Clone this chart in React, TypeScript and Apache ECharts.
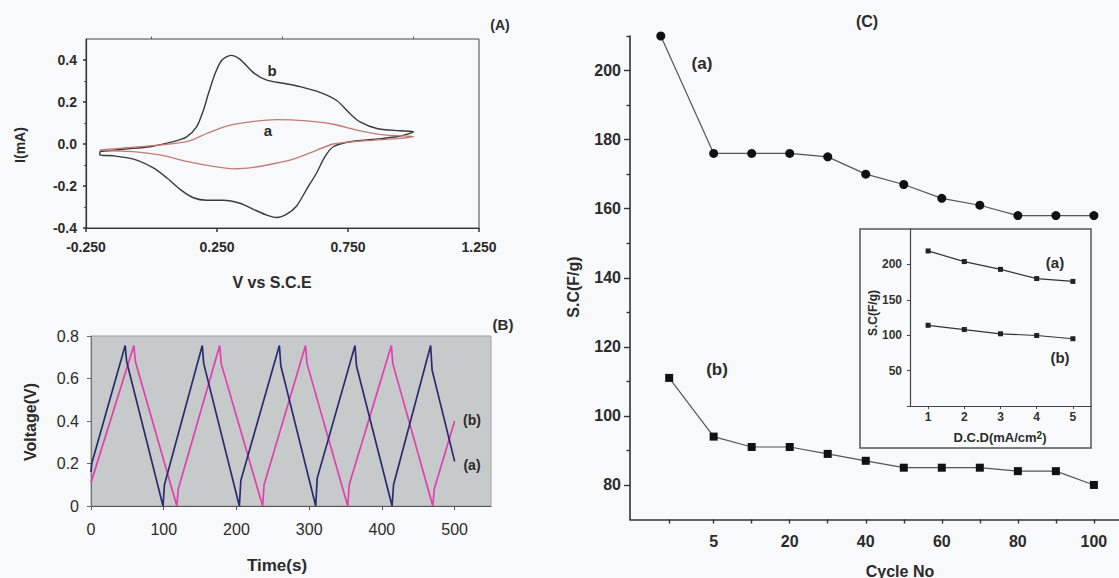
import React, { useEffect, useRef } from "react";
import * as echarts from "echarts";

const FONT = "'Liberation Sans', Arial, Helvetica, sans-serif";
const INK = "#2b2b2b";

// ---------- Panel A: cyclic voltammograms (V vs S.C.E, I in mA) ----------
const cvCurveB: number[][] = [
  [-0.197, -0.036], [-0.1, -0.024], [-0.006, -0.013], [0.083, 0.011], [0.134, 0.034],
  [0.172, 0.081], [0.198, 0.16], [0.217, 0.239], [0.242, 0.333], [0.268, 0.399],
  [0.303, 0.422], [0.338, 0.403], [0.389, 0.34], [0.44, 0.304], [0.503, 0.289],
  [0.567, 0.273], [0.643, 0.246], [0.707, 0.207], [0.758, 0.144], [0.796, 0.105],
  [0.86, 0.074], [0.948, 0.063], [1.0, 0.058], [0.95, 0.038], [0.885, 0.027],
  [0.758, 0.011], [0.694, -0.013], [0.662, -0.06], [0.63, -0.138], [0.592, -0.216],
  [0.554, -0.295], [0.516, -0.334], [0.478, -0.35], [0.44, -0.339], [0.389, -0.311],
  [0.338, -0.282], [0.274, -0.268], [0.211, -0.268], [0.16, -0.256], [0.109, -0.216],
  [0.058, -0.161], [0.007, -0.114], [-0.069, -0.072], [-0.146, -0.056], [-0.197, -0.052],
  [-0.197, -0.036],
];
const cvCurveA: number[][] = [
  [-0.197, -0.028], [-0.006, -0.009], [0.134, 0.011], [0.211, 0.05], [0.287, 0.085],
  [0.376, 0.105], [0.478, 0.116], [0.592, 0.11], [0.694, 0.094], [0.796, 0.063],
  [0.898, 0.042], [1.0, 0.036], [0.95, 0.027], [0.821, 0.016], [0.694, 0.0],
  [0.618, -0.036], [0.541, -0.072], [0.465, -0.094], [0.389, -0.111], [0.312, -0.118],
  [0.236, -0.107], [0.134, -0.083], [0.032, -0.052], [-0.069, -0.036], [-0.197, -0.03],
  [-0.197, -0.028],
];
const cvXTicks = [-0.25, 0.25, 0.75, 1.25];
const cvXMinorTicks = [0, 0.5, 1.0];
const cvYTicks = [-0.4, -0.2, 0, 0.2, 0.4];
const cvYMinorTicks = [-0.3, -0.1, 0.1, 0.3];

// ---------- Panel B: charge / discharge (Time s, Voltage V) ----------
const gcdCurveA: number[][] = [
  [0, 0.16], [1, 0.2], [47, 0.755], [49, 0.68], [99, 0], [101, 0.1], [153, 0.755],
  [155, 0.67], [204, 0], [206, 0.12], [259, 0.755], [261, 0.66], [309, 0], [311, 0.13],
  [363, 0.755], [365, 0.66], [414, 0], [416, 0.1], [467, 0.755], [469, 0.64], [500, 0.21],
];
const gcdCurveB: number[][] = [
  [0, 0.11], [59, 0.755], [61, 0.68], [118, 0], [120, 0.08], [177, 0.755], [179, 0.67],
  [236, 0], [238, 0.1], [295, 0.755], [297, 0.67], [353, 0], [355, 0.1], [413, 0.755],
  [415, 0.67], [470, 0], [472, 0.08], [500, 0.4],
];
const timeTicks = [0, 100, 200, 300, 400, 500];
const voltTicks = [0, 0.2, 0.4, 0.6, 0.8];

// ---------- Panel C: specific capacitance vs cycle number ----------
const cycleNo = [1, 5, 10, 20, 30, 40, 50, 60, 70, 80, 90, 100];
const cycleSlot = [-0.17, 1, 2, 3, 4, 5, 6, 7, 8, 9, 10, 11];
const firstSlotA = -0.39;
const scCycleA = [210, 176, 176, 176, 175, 170, 167, 163, 161, 158, 158, 158];
const scCycleB = [111, 94, 91, 91, 89, 87, 85, 85, 85, 84, 84, 80];
const cycleLabelSlots = [1, 3, 5, 7, 9, 11];
const scMajorTicks = [80, 100, 120, 140, 160, 180, 200];
const scMinorTicks = [90, 110, 130, 150, 170, 190, 210];

// ---------- Inset: specific capacitance vs discharge current density ----------
const dcd = [1, 2, 3, 4, 5];
const scDcdA = [219, 204, 193, 180, 176];
const scDcdB = [114, 108, 102, 99.6, 95];
const insetYTicks = [0, 50, 100, 150, 200];
const insetYLabels = [50, 100, 150, 200];

function App() {
  const ref = useRef<HTMLDivElement>(null);

  useEffect(() => {
    if (!ref.current) return;
    const chart = echarts.init(ref.current, undefined, { renderer: "svg" });

    const label = (size: number, weight: string, color = INK) => ({
      fontFamily: FONT, fontSize: size, fontWeight: weight, color,
    });
    const txt = (text: string, x: number, y: number, size: number, rot = 0, weight = "bold") => ({
      type: "text", x, y, rotation: rot, z: 20,
      style: {
        text, font: `${weight} ${size}px ${FONT}`, fill: INK,
        textAlign: "center", textVerticalAlign: "middle", align: "center", verticalAlign: "middle",
      },
    });

    const slotA = cycleSlot.map((s, i) => (i === 0 ? firstSlotA : s));

    chart.setOption({
      animation: false,
      backgroundColor: "#f8f9fb",
      grid: [
        { left: 86, top: 39, width: 393, height: 189, show: true, borderColor: "#444", borderWidth: 1, backgroundColor: "transparent" },
        { left: 91, top: 336, width: 400, height: 170, show: true, borderColor: "#9ea2a2", borderWidth: 1, backgroundColor: "#c6caca" },
        { left: 630, top: 36, width: 489, height: 483.5 },
        { left: 910, top: 229, width: 181, height: 177 },
      ],
      xAxis: [
        {
          type: "value", gridIndex: 0, min: -0.25, max: 1.25, z: 3,
          axisLine: { show: true, onZero: false, lineStyle: { color: "#333", width: 1.2 } },
          axisTick: { show: true, customValues: cvXTicks, length: 4, lineStyle: { color: "#333", width: 1.5 } },
          axisLabel: { customValues: cvXTicks, margin: 12, formatter: (v: number) => v.toFixed(3), ...label(14, "bold") },
          splitLine: { show: false },
        },
        {
          type: "value", gridIndex: 0, min: -0.25, max: 1.25, z: 3,
          axisLine: { show: false, onZero: false },
          axisTick: { show: true, customValues: cvXMinorTicks, length: 2.5, lineStyle: { color: "#555" } },
          axisLabel: { show: false },
          splitLine: { show: false },
        },
        {
          type: "value", gridIndex: 1, min: 0, max: 550, z: 3,
          axisLine: { show: true, onZero: false, lineStyle: { color: "#555", width: 1.2 } },
          axisTick: { show: true, customValues: timeTicks, length: 4, lineStyle: { color: "#555" } },
          axisLabel: { customValues: timeTicks, margin: 15, ...label(16, "normal") },
          splitLine: { show: false },
        },
        {
          type: "value", gridIndex: 2, min: -1.2, max: 11.66, z: 3,
          axisLine: { show: true, onZero: false, lineStyle: { color: "#333", width: 1.6 } },
          axisTick: { show: true, customValues: cycleSlot, length: 4, lineStyle: { color: "#333", width: 1.4 } },
          axisLabel: {
            customValues: cycleLabelSlots, margin: 14,
            formatter: (v: number) => String(cycleNo[cycleSlot.indexOf(v)]),
            ...label(16, "bold"),
          },
          splitLine: { show: false },
        },
        {
          type: "value", gridIndex: 3, min: 0.5, max: 5.5, z: 5,
          axisLine: { show: true, onZero: false, lineStyle: { color: "#444", width: 1.2 } },
          axisTick: { show: true, customValues: dcd, length: 3, lineStyle: { color: "#444" } },
          axisLabel: { customValues: dcd, margin: 5, ...label(12, "bold", "#333") },
          splitLine: { show: false },
        },
      ],
      yAxis: [
        {
          type: "value", gridIndex: 0, min: -0.4, max: 0.5, position: "left", z: 3,
          axisLine: { show: true, onZero: false, lineStyle: { color: "#333", width: 1.2 } },
          axisTick: { show: true, customValues: cvYTicks, length: 3, lineStyle: { color: "#333", width: 1.5 } },
          axisLabel: { customValues: cvYTicks, margin: 9, formatter: (v: number) => v.toFixed(1), ...label(14, "bold") },
          splitLine: { show: false },
        },
        {
          type: "value", gridIndex: 0, min: -0.4, max: 0.5, position: "left", z: 3,
          axisLine: { show: false, onZero: false },
          axisTick: { show: true, customValues: cvYMinorTicks, length: 2, lineStyle: { color: "#555" } },
          axisLabel: { show: false },
          splitLine: { show: false },
        },
        {
          type: "value", gridIndex: 1, min: 0, max: 0.8, position: "left", z: 3,
          axisLine: { show: true, onZero: false, lineStyle: { color: "#777", width: 1.2 } },
          axisTick: { show: true, customValues: voltTicks, length: 4, lineStyle: { color: "#666" } },
          axisLabel: { customValues: voltTicks, margin: 12, formatter: (v: number) => String(+v.toFixed(1)), ...label(16, "normal") },
          splitLine: { show: false },
        },
        {
          type: "value", gridIndex: 2, min: 70, max: 210, position: "left", z: 3,
          axisLine: { show: true, onZero: false, lineStyle: { color: "#333", width: 1.6 } },
          axisTick: { show: true, customValues: scMajorTicks, length: 6, lineStyle: { color: "#333", width: 1.4 } },
          axisLabel: { customValues: scMajorTicks, margin: 9, ...label(16, "bold") },
          splitLine: { show: false },
        },
        {
          type: "value", gridIndex: 2, min: 70, max: 210, position: "left", z: 3,
          axisLine: { show: false, onZero: false },
          axisTick: { show: true, customValues: scMinorTicks, length: 3.5, lineStyle: { color: "#333", width: 1.4 } },
          axisLabel: { show: false },
          splitLine: { show: false },
        },
        {
          type: "value", gridIndex: 3, min: 0, max: 250, position: "left", z: 5,
          axisLine: { show: true, onZero: false, lineStyle: { color: "#444", width: 1.2 } },
          axisTick: { show: true, customValues: insetYTicks, length: 3, lineStyle: { color: "#444" } },
          axisLabel: { customValues: insetYLabels, margin: 8, ...label(12, "bold", "#333") },
          splitLine: { show: false },
        },
      ],
      series: [
        {
          type: "line", name: "CV b", xAxisIndex: 0, yAxisIndex: 0, data: cvCurveB,
          showSymbol: false, smooth: 0.25, lineStyle: { color: "#3a3a3a", width: 1.4 }, z: 4,
        },
        {
          type: "line", name: "CV a", xAxisIndex: 0, yAxisIndex: 0, data: cvCurveA,
          showSymbol: false, smooth: 0.25, lineStyle: { color: "#c47a72", width: 1.3 }, z: 4,
        },
        {
          type: "line", name: "GCD b", xAxisIndex: 2, yAxisIndex: 2, data: gcdCurveB,
          showSymbol: false, lineStyle: { color: "#e23fb0", width: 1.7 }, z: 4,
        },
        {
          type: "line", name: "GCD a", xAxisIndex: 2, yAxisIndex: 2, data: gcdCurveA,
          showSymbol: false, lineStyle: { color: "#2c2b70", width: 1.7 }, z: 4,
        },
        {
          type: "line", name: "Cycle a", xAxisIndex: 3, yAxisIndex: 3,
          data: scCycleA.map((v, i) => [slotA[i], v]),
          symbol: "circle", symbolSize: 9, itemStyle: { color: "#111" },
          lineStyle: { color: "#555", width: 1.2 }, z: 4,
        },
        {
          type: "line", name: "Cycle b", xAxisIndex: 3, yAxisIndex: 3,
          data: scCycleB.map((v, i) => [cycleSlot[i], v]),
          symbol: "rect", symbolSize: 8, itemStyle: { color: "#111" },
          lineStyle: { color: "#555", width: 1.2 }, z: 4,
        },
        {
          type: "line", name: "DCD a", xAxisIndex: 4, yAxisIndex: 5,
          data: scDcdA.map((v, i) => [dcd[i], v]),
          symbol: "rect", symbolSize: 5, itemStyle: { color: "#222" },
          lineStyle: { color: "#333", width: 1.2 }, z: 8,
        },
        {
          type: "line", name: "DCD b", xAxisIndex: 4, yAxisIndex: 5,
          data: scDcdB.map((v, i) => [dcd[i], v]),
          symbol: "rect", symbolSize: 5, itemStyle: { color: "#222" },
          lineStyle: { color: "#333", width: 1.2 }, z: 8,
        },
      ],
      graphic: [
        {
          type: "rect", z: 1, shape: { x: 860, y: 229, width: 231, height: 219 },
          style: { fill: "#f9fafc", stroke: "#555", lineWidth: 1.5 },
        },
        txt("(A)", 500, 25, 14),
        txt("I(mA)", 20, 145, 14, Math.PI / 2),
        txt("V vs S.C.E", 272, 282, 16),
        txt("b", 272, 70, 15),
        txt("a", 268, 130, 15),
        txt("(B)", 503, 324, 15),
        txt("Voltage(V)", 30, 422, 16, Math.PI / 2),
        txt("Time(s)", 277, 565, 17),
        txt("(b)", 472, 420, 14),
        txt("(a)", 472, 465, 14),
        txt("(C)", 867, 21, 16),
        txt("S.C(F/g)", 573, 287, 16, Math.PI / 2),
        txt("Cycle No", 900, 571, 16),
        txt("(a)", 702, 63, 17),
        txt("(b)", 717, 369, 17),
        txt("(a)", 1055, 262, 15),
        txt("(b)", 1060, 357, 15),
        txt("S.C(F/g)", 873, 313, 12, Math.PI / 2),
        {
          type: "text", x: 1000, y: 437, z: 20,
          style: {
            text: "{n|D.C.D(mA/cm}{s|2}{n|)}",
            textAlign: "center", textVerticalAlign: "middle", align: "center", verticalAlign: "middle",
            rich: {
              n: { fontFamily: FONT, fontSize: 13, fontWeight: "bold", fill: INK, color: INK, lineHeight: 14, verticalAlign: "bottom" },
              s: { fontFamily: FONT, fontSize: 10, fontWeight: "bold", fill: INK, color: INK, lineHeight: 10, padding: [0, 0, 5, 0], verticalAlign: "top" },
            },
          },
        },
      ],
    });

    return () => chart.dispose();
  }, []);

  return (
    <div
      ref={ref}
      style={{ position: "fixed", left: 0, top: 0, width: 1119, height: 578, background: "#f8f9fb" }}
    />
  );
}

export default App;
